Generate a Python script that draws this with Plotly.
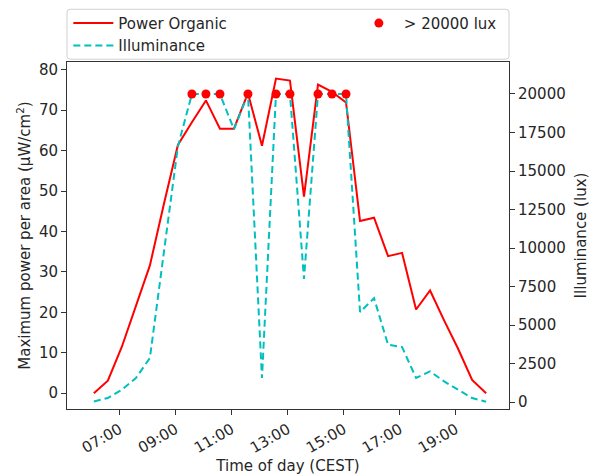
import plotly.graph_objects as go

# Half-hourly samples over one day (CEST)
times = ["06:05", "06:35", "07:05", "07:35", "08:05", "08:35", "09:05", "09:35",
         "10:05", "10:35", "11:05", "11:35", "12:05", "12:35", "13:05", "13:35",
         "14:05", "14:35", "15:05", "15:35", "16:05", "16:35", "17:05", "17:35",
         "18:05", "18:35", "19:05", "19:35", "20:05"]

# Maximum power per area of the organic cell (uW/cm^2)
power = [0.0, 3.1, 11.5, 21.5, 31.6, 46.8, 61.4, 67.0,
         72.4, 65.4, 65.4, 74.2, 61.2, 77.8, 77.3, 48.6,
         76.3, 74.5, 71.9, 42.6, 43.4, 33.9, 34.7, 20.7,
         25.4, 18.0, 11.0, 3.3, 0.0]

# Illuminance (lux); the sensor saturates at 20000
lux = [50, 270, 810, 1570, 2870, 9700, 16600, 20000,
       20000, 20000, 17700, 20000, 1570, 20000, 20000, 8000,
       20000, 20000, 20000, 5850, 6750, 3730, 3580, 1570,
       2000, 1350, 810, 270, 30]

THRESHOLD = 20000
DAY = "2019-06-20 "

x = [DAY + t for t in times]
bright_x = [DAY + t for t, l in zip(times, lux) if l >= THRESHOLD]
bright_y = [l for l in lux if l >= THRESHOLD]

FONT = "DejaVu Sans"
TXT = "#262626"
RED = "#ff0000"
CYAN = "#00bfbf"

fig = go.Figure()
fig.add_trace(go.Scatter(
    x=x, y=power, mode="lines", name="Power Organic",
    line=dict(color=RED, width=2), yaxis="y", legend="legend"))
fig.add_trace(go.Scatter(
    x=x, y=lux, mode="lines", name="Illuminance",
    line=dict(color=CYAN, width=2, dash="7px,4px"), yaxis="y2", legend="legend"))
fig.add_trace(go.Scatter(
    x=bright_x, y=bright_y, mode="markers", name="> 20000 lux",
    marker=dict(color=RED, size=9, line=dict(width=0)), yaxis="y2", legend="legend2"))

axis_common = dict(
    showline=True, linecolor="#333333", linewidth=1,
    ticks="outside", ticklen=5, tickwidth=1, tickcolor="#333333",
    showgrid=False, zeroline=False,
    tickfont=dict(family=FONT, size=15, color=TXT),
)

fig.update_layout(
    width=592, height=476,
    margin=dict(l=67, r=83, t=62, b=67, autoexpand=False),
    paper_bgcolor="white", plot_bgcolor="white",
    font=dict(family=FONT, size=15, color=TXT),
    xaxis=dict(
        **axis_common, mirror=True, type="date",
        range=[DAY + "05:07:30", DAY + "20:54"],
        tick0=DAY + "07:00", dtick=2 * 3600 * 1000, tickformat="%H:%M",
        tickangle=-30,
        title=dict(text="Time of day (CEST)", font=dict(family=FONT, size=15, color=TXT),
                   standoff=3),
    ),
    yaxis=dict(
        **axis_common, mirror=False,
        range=[-3.9, 81.9], dtick=10,
        title=dict(text="Maximum power per area (µW/cm<sup>2</sup>)",
                   font=dict(family=FONT, size=15, color=TXT), standoff=4),
    ),
    yaxis2=dict(
        **axis_common, overlaying="y", side="right",
        range=[-441, 22075], dtick=2500, tickformat="d",
        title=dict(text="Illuminance (lux)",
                   font=dict(family=FONT, size=15, color=TXT), standoff=10),
    ),
    legend=dict(
        x=0.003, y=1.159, xanchor="left", yanchor="top",
        bgcolor="rgba(0,0,0,0)", borderwidth=0,
        font=dict(family=FONT, size=15, color=TXT),
        orientation="v", tracegroupgap=0, itemwidth=40,
    ),
    legend2=dict(
        x=0.649, y=1.159, xanchor="left", yanchor="top",
        bgcolor="rgba(0,0,0,0)", borderwidth=0,
        font=dict(family=FONT, size=15, color=TXT),
        orientation="v", itemwidth=40,
    ),
    showlegend=True,
)

# Legend frame spanning the width of the axes
r = 0.008
x0, x1, y0, y1 = 0.0, 1.0, 1.008, 1.152
path = (f"M {x0 + r},{y0} L {x1 - r},{y0} Q {x1},{y0} {x1},{y0 + r} "
        f"L {x1},{y1 - r} Q {x1},{y1} {x1 - r},{y1} L {x0 + r},{y1} "
        f"Q {x0},{y1} {x0},{y1 - r} L {x0},{y0 + r} Q {x0},{y0} {x0 + r},{y0} Z")
fig.add_shape(type="path", path=path, xref="paper", yref="paper",
              line=dict(color="#d0d0d0", width=1), fillcolor="rgba(255,255,255,0.8)",
              layer="below")

fig.write_html("out.html")
